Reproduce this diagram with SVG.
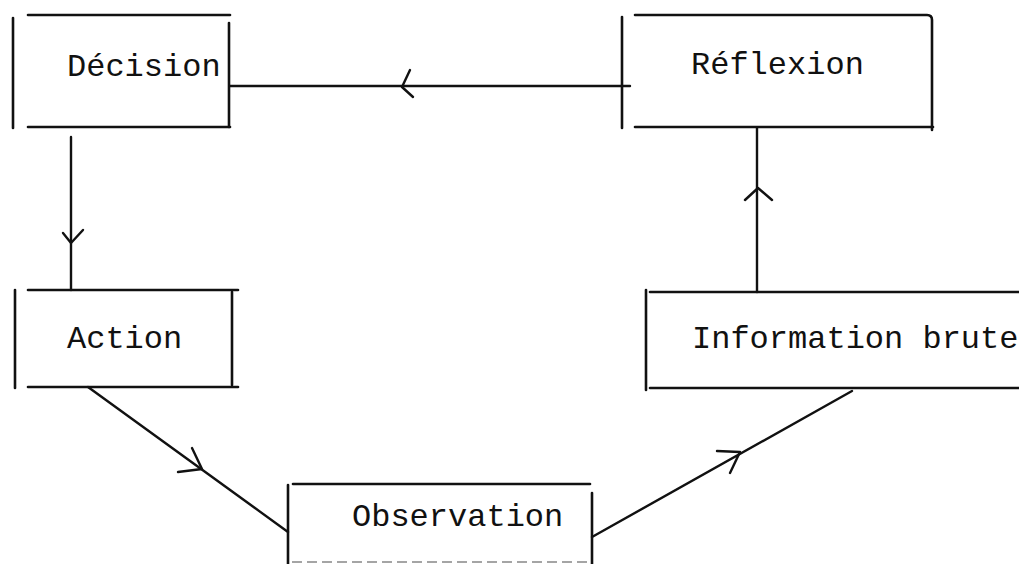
<svg xmlns="http://www.w3.org/2000/svg" width="1019" height="564" viewBox="0 0 1019 564">
<style>
.b{stroke:#111;stroke-width:2.6;fill:none;stroke-linecap:round}
.c{stroke:#111;stroke-width:2.4;fill:none;stroke-linecap:round;stroke-linejoin:round}
.t{font-family:"Liberation Mono","Courier New",monospace;font-size:32px;fill:#111}
</style>
<rect width="1019" height="564" fill="#fff"/>
<g id="connectors">
<line class="c" x1="230" y1="86" x2="630" y2="86"/>
<polyline class="c" points="410,70 402,87 413,97"/>
<line class="c" x1="71" y1="137" x2="71" y2="290"/>
<polyline class="c" points="63,233 71,243 83,230"/>
<line class="c" x1="757" y1="128" x2="757" y2="292"/>
<polyline class="c" points="745,200 758,188 772,200"/>
<line class="c" x1="88" y1="387" x2="288" y2="532"/>
<polyline class="c" points="192,448 202,469 178,472"/>
<line class="c" x1="592" y1="537" x2="852" y2="391"/>
<polyline class="c" points="717,451 740,452 730,473"/>
</g>
<g id="decision">
<line class="b" x1="13" y1="18" x2="13" y2="128"/>
<line class="b" x1="28" y1="15" x2="230" y2="15"/>
<line class="b" x1="229" y1="23" x2="229" y2="127"/>
<line class="b" x1="28" y1="127" x2="230" y2="127"/>
<text class="t" x="67" y="76">Décision</text>
</g>
<g id="reflexion">
<line class="b" x1="622" y1="17" x2="622" y2="128"/>
<path class="b" d="M635 15 H927 Q932 15 932 20 V130"/>
<line class="b" x1="635" y1="127" x2="933" y2="127"/>
<text class="t" x="691" y="74">Réflexion</text>
</g>
<g id="action">
<line class="b" x1="15" y1="290" x2="15" y2="388"/>
<line class="b" x1="28" y1="290" x2="238" y2="290"/>
<line class="b" x1="232" y1="292" x2="232" y2="385"/>
<line class="b" x1="28" y1="387" x2="238" y2="387"/>
<text class="t" x="67" y="348">Action</text>
</g>
<g id="information-brute">
<line class="b" x1="646" y1="290" x2="646" y2="390"/>
<line class="b" x1="650" y1="292" x2="1019" y2="292"/>
<line class="b" x1="650" y1="388" x2="1019" y2="388"/>
<text class="t" x="692" y="348">Information brute</text>
</g>
<g id="observation">
<line class="b" x1="288" y1="485" x2="288" y2="564"/>
<line class="b" x1="293" y1="484" x2="590" y2="484"/>
<line class="b" x1="592" y1="493" x2="592" y2="564"/>
<line x1="292" y1="562" x2="590" y2="562" stroke="#888" stroke-width="1.5" stroke-dasharray="10 5"/>
<text class="t" x="352" y="526">Observation</text>
</g>
</svg>
